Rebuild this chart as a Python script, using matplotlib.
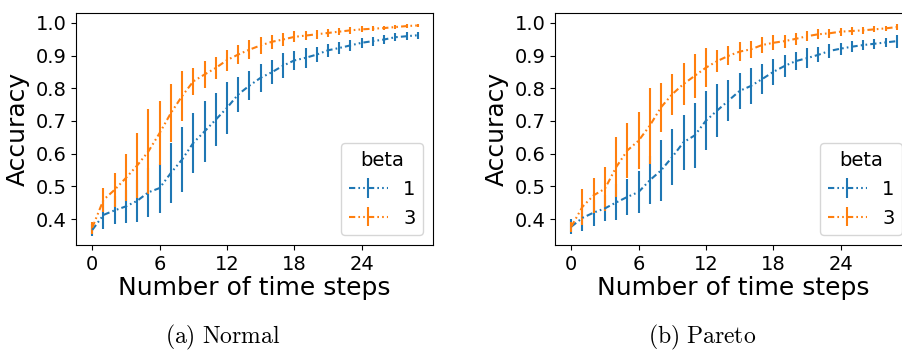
import numpy as np
import matplotlib
matplotlib.use("Agg")
import matplotlib.pyplot as plt

plt.rcParams["mathtext.fontset"] = "cm"

#### Data

steps = np.arange(30)

# (a) Normal
normal_b1 = [0.367, 0.413, 0.427, 0.439, 0.456, 0.482, 0.495, 0.541, 0.582, 0.633,
             0.668, 0.704, 0.740, 0.781, 0.808, 0.832, 0.849, 0.869, 0.885, 0.893,
             0.903, 0.916, 0.923, 0.931, 0.939, 0.944, 0.949, 0.956, 0.959, 0.962]
normal_b1_err = [0.018, 0.042, 0.043, 0.050, 0.064, 0.074, 0.075, 0.092, 0.100, 0.092,
                 0.092, 0.080, 0.080, 0.054, 0.045, 0.042, 0.036, 0.038, 0.030, 0.030,
                 0.024, 0.020, 0.018, 0.017, 0.015, 0.014, 0.013, 0.012, 0.012, 0.011]
normal_b3 = [0.374, 0.459, 0.490, 0.526, 0.564, 0.607, 0.663, 0.724, 0.776, 0.821,
             0.842, 0.862, 0.886, 0.903, 0.918, 0.931, 0.942, 0.949, 0.957, 0.961,
             0.965, 0.969, 0.973, 0.977, 0.980, 0.982, 0.984, 0.987, 0.990, 0.992]
normal_b3_err = [0.018, 0.036, 0.052, 0.072, 0.100, 0.130, 0.097, 0.088, 0.076, 0.042,
                 0.040, 0.035, 0.032, 0.030, 0.030, 0.025, 0.022, 0.020, 0.017, 0.015,
                 0.014, 0.012, 0.011, 0.010, 0.009, 0.008, 0.007, 0.006, 0.005, 0.005]

# (b) Pareto
pareto_b1 = [0.377, 0.404, 0.420, 0.433, 0.451, 0.468, 0.483, 0.519, 0.549, 0.590,
             0.635, 0.656, 0.701, 0.732, 0.762, 0.792, 0.807, 0.828, 0.850, 0.868,
             0.883, 0.892, 0.902, 0.914, 0.921, 0.927, 0.932, 0.936, 0.940, 0.944]
pareto_b1_err = [0.022, 0.040, 0.040, 0.040, 0.055, 0.055, 0.065, 0.073, 0.094, 0.086,
                 0.084, 0.100, 0.091, 0.082, 0.062, 0.056, 0.056, 0.047, 0.040, 0.035,
                 0.028, 0.030, 0.023, 0.020, 0.018, 0.017, 0.016, 0.015, 0.015, 0.020]
pareto_b3 = [0.377, 0.438, 0.473, 0.493, 0.559, 0.610, 0.640, 0.686, 0.742, 0.782,
             0.813, 0.838, 0.863, 0.883, 0.899, 0.912, 0.919, 0.932, 0.939, 0.944,
             0.951, 0.959, 0.965, 0.968, 0.973, 0.975, 0.977, 0.980, 0.983, 0.987]
pareto_b3_err = [0.015, 0.055, 0.054, 0.067, 0.092, 0.085, 0.087, 0.116, 0.075, 0.063,
                 0.065, 0.067, 0.060, 0.034, 0.029, 0.028, 0.025, 0.025, 0.023, 0.020,
                 0.018, 0.016, 0.015, 0.013, 0.012, 0.011, 0.010, 0.009, 0.008, 0.008]

betas = ["1", "3"]
colors = ["#1f77b4", "#ff7f0e"]
captions = [r"$\mathrm{(a)\ Normal}$", r"$\mathrm{(b)\ Pareto}$"]

#### Figure

fig = plt.figure(figsize=(9.02, 3.5), dpi=100)
ax1 = fig.add_axes([76 / 902, 105 / 350, 357 / 902, 232 / 350])
ax2 = fig.add_axes([555 / 902, 105 / 350, 357 / 902, 232 / 350])

panels = [
    (ax1, [normal_b1, normal_b3], [normal_b1_err, normal_b3_err]),
    (ax2, [pareto_b1, pareto_b3], [pareto_b1_err, pareto_b3_err]),
]

for ax, ys, errs in panels:
    for y, e, c, b in zip(ys, errs, colors, betas):
        ax.errorbar(steps, y, yerr=e, color=c, lw=1.5, elinewidth=1.5,
                    capsize=0, dashes=(3, 1.5, 0.8, 1.5, 0.8, 1.5), label=b)
    ax.set_xlim(-1.45, 30.36)
    ax.set_ylim(0.321, 1.03)
    ax.set_xticks([0, 6, 12, 18, 24])
    ax.set_yticks([0.4, 0.5, 0.6, 0.7, 0.8, 0.9, 1.0])
    ax.tick_params(labelsize=14)
    ax.set_xlabel("Number of time steps", fontsize=18, labelpad=2)
    ax.set_ylabel("Accuracy", fontsize=18)
    ax.legend(title="beta", loc="lower right", fontsize=14, title_fontsize=14)

fig.text(223 / 902, 1 - 337 / 350, captions[0], ha="center", va="center", fontsize=17)
fig.text(702 / 902, 1 - 337 / 350, captions[1], ha="center", va="center", fontsize=17)

fig.savefig("out.png", dpi=100)
